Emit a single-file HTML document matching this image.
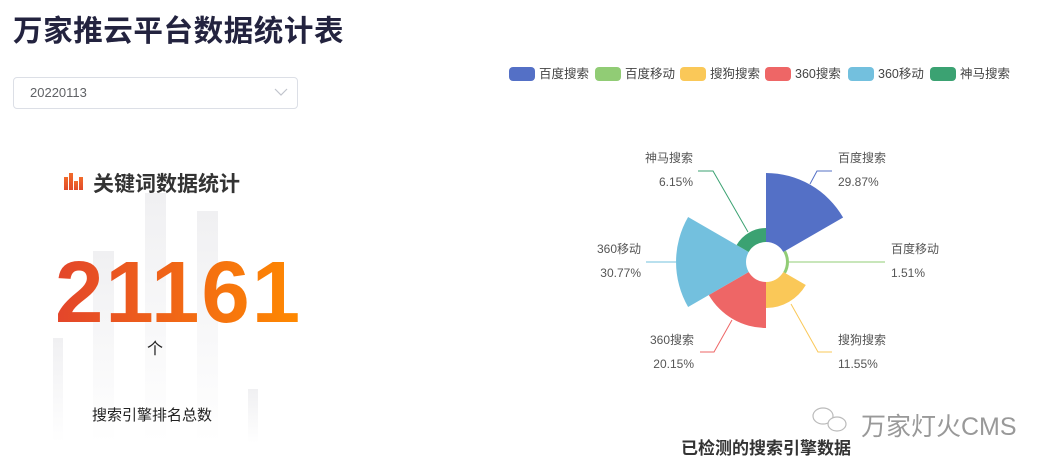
<!DOCTYPE html>
<html><head><meta charset="utf-8"><style>
body{margin:0;width:1051px;height:471px;background:#fff;position:relative;overflow:hidden;font-family:"Liberation Sans","Noto Sans CJK SC",sans-serif;}
.abs{position:absolute;white-space:nowrap;}
</style></head><body>
<div class="abs" style="left:13px;top:8px;font-size:29.5px;font-weight:bold;color:#23233f;letter-spacing:0.6px;">万家推云平台数据统计表</div>
<div class="abs" style="left:13px;top:77px;width:283px;height:30px;border:1px solid #dcdfe6;border-radius:4px;"></div>
<div class="abs" style="left:30px;top:85px;font-size:13px;color:#606266;">20220113</div>
<svg class="abs" style="left:274px;top:87px" width="14" height="10"><polyline points="1,2 7,8 13,2" fill="none" stroke="#c0c4cc" stroke-width="1.2"/></svg>

<svg class="abs" style="left:0;top:0" width="320" height="471">
<defs><linearGradient id="bg" x1="0" y1="0" x2="0" y2="1"><stop offset="0" stop-color="#f0f0f2"/><stop offset="1" stop-color="#fff"/></linearGradient>
<linearGradient id="ic" x1="0" y1="0" x2="0" y2="1"><stop offset="0" stop-color="#f26b2a"/><stop offset="1" stop-color="#e04a2a"/></linearGradient></defs>
<rect x="53" y="338" width="10" height="105" fill="url(#bg)"/>
<rect x="93" y="251" width="21" height="192" fill="url(#bg)"/>
<rect x="145" y="193" width="21" height="250" fill="url(#bg)"/>
<rect x="197" y="211" width="21" height="232" fill="url(#bg)"/>
<rect x="248" y="389" width="10" height="54" fill="url(#bg)"/>
<rect x="64" y="177" width="4" height="13" fill="url(#ic)"/>
<rect x="69" y="173" width="4" height="17" fill="url(#ic)"/>
<rect x="74" y="181" width="4" height="9" fill="url(#ic)"/>
<rect x="79" y="177" width="4" height="13" fill="url(#ic)"/>
</svg>
<div class="abs" style="left:93px;top:168px;font-size:21px;font-weight:bold;color:#333;">关键词数据统计</div>
<div class="abs" style="left:55px;top:243px;font-size:87px;font-weight:bold;line-height:100px;letter-spacing:2px;background:linear-gradient(90deg,#e3452b,#ff8a00);-webkit-background-clip:text;background-clip:text;color:transparent;">21161</div>
<div class="abs" style="left:147px;top:335px;font-size:16px;color:#222;">个</div>
<div class="abs" style="left:92px;top:404px;font-size:15px;color:#222;">搜索引擎排名总数</div>

<svg class="abs" style="left:0;top:0" width="1051" height="471" font-size="12" fill="#555">
<g font-size="12.5">
<rect x="509" y="67" width="26" height="14" rx="4" fill="#5470c6"/><text x="539" y="78" fill="#444">百度搜索</text>
<rect x="595" y="67" width="26" height="14" rx="4" fill="#91cc75"/><text x="625" y="78" fill="#444">百度移动</text>
<rect x="680" y="67" width="26" height="14" rx="4" fill="#fac858"/><text x="710" y="78" fill="#444">搜狗搜索</text>
<rect x="765" y="67" width="26" height="14" rx="4" fill="#ee6666"/><text x="795" y="78" fill="#444">360搜索</text>
<rect x="848" y="67" width="26" height="14" rx="4" fill="#73c0de"/><text x="878" y="78" fill="#444">360移动</text>
<rect x="930" y="67" width="26" height="14" rx="4" fill="#3ba272"/><text x="960" y="78" fill="#444">神马搜索</text>
</g>
<path d="M766,242 L766,173 A89,89 0 0 1 843.1,217.5 L783.3,252 A20,20 0 0 0 766,242Z" fill="#5470c6"/>
<path d="M783.3,252 L785.9,250.5 A23,23 0 0 1 785.9,273.5 L783.3,272 A20,20 0 0 0 783.3,252Z" fill="#91cc75"/>
<path d="M783.3,272 L805.8,285 A46,46 0 0 1 766,308 L766,282 A20,20 0 0 0 783.3,272Z" fill="#fac858"/>
<path d="M766,282 L766,328 A66,66 0 0 1 708.8,295 L748.7,272 A20,20 0 0 0 766,282Z" fill="#ee6666"/>
<path d="M748.7,272 L688.1,307 A90,90 0 0 1 688.1,217 L748.7,252 A20,20 0 0 0 748.7,272Z" fill="#73c0de"/>
<path d="M748.7,252 L736.6,245 A34,34 0 0 1 766,228 L766,242 A20,20 0 0 0 748.7,252Z" fill="#3ba272"/>
<g fill="none" stroke-width="1">
<polyline points="810,184 817,171 832,171" stroke="#5470c6"/>
<polyline points="789,262 885,262" stroke="#91cc75"/>
<polyline points="791,304 818,352 832,352" stroke="#fac858"/>
<polyline points="732,320 714,352 700,352" stroke="#ee6666"/>
<polyline points="676,262 646,262" stroke="#73c0de"/>
<polyline points="748,232 713,171 698,171" stroke="#3ba272"/>
</g>
<text x="838" y="162">百度搜索</text><text x="838" y="186">29.87%</text>
<text x="891" y="253">百度移动</text><text x="891" y="277">1.51%</text>
<text x="838" y="344">搜狗搜索</text><text x="838" y="368">11.55%</text>
<text x="694" y="344" text-anchor="end">360搜索</text><text x="694" y="368" text-anchor="end">20.15%</text>
<text x="641" y="253" text-anchor="end">360移动</text><text x="641" y="277" text-anchor="end">30.77%</text>
<text x="693" y="162" text-anchor="end">神马搜索</text><text x="693" y="186" text-anchor="end">6.15%</text>
<text x="766" y="454" text-anchor="middle" font-size="17" font-weight="bold" fill="#333">已检测的搜索引擎数据</text>
<g fill="none" stroke="#bbb" stroke-width="1.2">
<ellipse cx="823" cy="416" rx="10" ry="8"/><ellipse cx="837" cy="424" rx="9" ry="7" fill="#fff"/>
</g>
<text x="861" y="435" font-size="25" fill="#999">万家灯火CMS</text>
</svg>
</body></html>
